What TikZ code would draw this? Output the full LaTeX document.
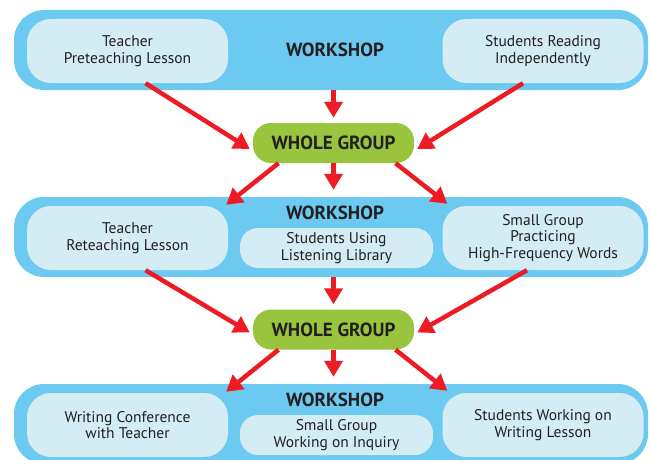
\documentclass[tikz,border=0pt]{standalone}
\usepackage{fontspec}
\setmainfont{PT Sans}
\usetikzlibrary{arrows.meta}

\definecolor{bandblue}{RGB}{108,201,240}
\definecolor{paleblue}{RGB}{212,236,244}
\definecolor{groupgreen}{RGB}{152,197,61}
\definecolor{arrowred}{RGB}{237,28,36}
\definecolor{inkdark}{RGB}{35,31,32}

\begin{document}
\begin{tikzpicture}[x=1pt,y=-1pt,
    band/.style={fill=bandblue, rounded corners=30pt, minimum width=634pt, minimum height=80pt},
    task/.style={fill=paleblue, rounded corners=24pt, minimum width=201pt, minimum height=64pt,
        align=center, text=inkdark, font=\fontsize{15.5}{16.5}\selectfont},
    subtask/.style={task, rounded corners=18pt, minimum width=193pt, minimum height=40pt},
    title/.style={text=inkdark, font=\fontsize{19}{21}\selectfont\bfseries},
    whole/.style={fill=groupgreen, rounded corners=18pt, minimum width=161pt, minimum height=40pt,
        text=inkdark, font=\fontsize{19}{21}\selectfont\bfseries},
    flow/.style={draw=arrowred, line width=4.5pt, -{Triangle[width=18pt,length=16pt]}}]
    \clip (0,0) rectangle (650,460);

    % first workshop
    \node (band1) [band] at (331,50) {};
    \node (tpl) [task] at (127.5,51) {Teacher\\Preteaching Lesson};
    \node (sri) [task] at (543,51) {Students Reading\\Independently};
    \node (ws1) [title] at (335,50) {WORKSHOP};

    \node (wg1) [whole] at (333.5,143) {WHOLE GROUP};

    % second workshop
    \node (band2) [band] at (331,237) {};
    \node (trl) [task] at (127.5,238) {Teacher\\Reteaching Lesson};
    \node (sul) [subtask] at (336.5,248) {Students Using\\Listening Library};
    \node (sgp) [task] at (543,238) {Small Group\\Practicing\\High-Frequency Words};
    \node (ws2) [title] at (335,213) {WORKSHOP};

    \node (wg2) [whole] at (333.5,329.5) {WHOLE GROUP};

    % third workshop
    \node (band3) [band] at (331,424) {};
    \node (wct) [task] at (127.5,425) {Writing Conference\\with Teacher};
    \node (sgi) [subtask] at (336.5,435) {Small Group\\Working on Inquiry};
    \node (swl) [task] at (543,425) {Students Working on\\Writing Lesson};
    \node (ws3) [title] at (335,400) {WORKSHOP};

    % arrows
    \draw[flow] ([xshift=18pt]tpl.south) -- ([xshift=-3pt,yshift=-6pt]wg1.west);
    \draw[flow, shorten >=5pt] (wg1.north |- band1.south) -- (wg1.north);
    \draw[flow] ([xshift=-20pt]sri.south) -- ([xshift=3pt,yshift=-6pt]wg1.east);
    \draw[flow] ([xshift=-55pt]wg1.south) -- ([xshift=-2pt,yshift=1pt]trl.north east);
    \draw[flow, shorten >=7pt] (wg1.south) -- (wg1.south |- band2.north);
    \draw[flow] ([xshift=62pt]wg1.south) -- ([xshift=5pt,yshift=2pt]sgp.north west);

    \draw[flow] ([xshift=18pt]trl.south) -- ([xshift=-3pt,yshift=-3pt]wg2.west);
    \draw[flow, shorten >=5pt] (wg2.north |- band2.south) -- (wg2.north);
    \draw[flow] ([xshift=-16pt]sgp.south) -- ([xshift=3pt,yshift=-3pt]wg2.east);
    \draw[flow] ([xshift=-55pt]wg2.south) -- ([xshift=-2pt,yshift=1pt]wct.north east);
    \draw[flow, shorten >=7pt] (wg2.south) -- (wg2.south |- band3.north);
    \draw[flow] ([xshift=62pt]wg2.south) -- ([xshift=5pt,yshift=2pt]swl.north west);
\end{tikzpicture}
\end{document}
